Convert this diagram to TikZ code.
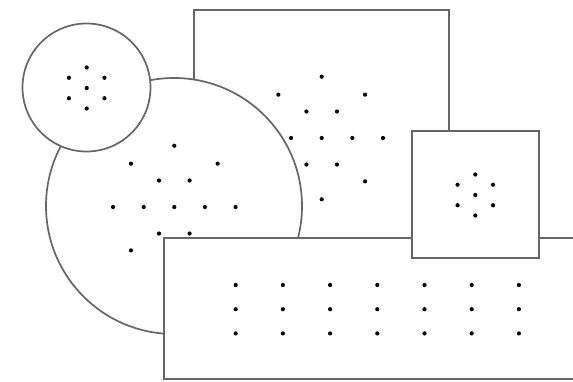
\documentclass[tikz,border=0pt]{standalone}
\usetikzlibrary{calc}
\begin{document}
\begin{tikzpicture}[x=1pt,y=-1pt,
  shapeline/.style={draw=black!60,line width=1.7pt,fill=white,inner sep=0pt,outer sep=0pt},
  boxshape/.style={shapeline,rectangle},
  roundshape/.style={shapeline,circle},
  dot/.style={circle,fill=black,inner sep=0pt,minimum size=4.2pt}]
\useasboundingbox (0,0) rectangle (573,381);
\clip (0,0) rectangle (573,381);
% top rectangle
\node[boxshape,minimum width=255.3pt,minimum height=227.7pt] (toprect) at (321.65,123.85) {};
\coordinate (tc) at (321.7,138);
\node[dot] (t0) at (tc) {};
\foreach \a [count=\i] in {0,60,...,300} \node[dot] (ti\i) at ($(tc)+(\a:30.6)$) {};
\foreach \a [count=\i] in {0,45,...,315} \node[dot] (to\i) at ($(tc)+(\a:61.3)$) {};
% big circle
\node[roundshape,minimum size=256pt] (bigcirc) at (174,206) {};
\coordinate (bc) at (174.3,207);
\node[dot] (b0) at (bc) {};
\foreach \a [count=\i] in {0,60,...,300} \node[dot] (bi\i) at ($(bc)+(\a:30.6)$) {};
\foreach \a [count=\i] in {0,45,...,315} \node[dot] (bo\i) at ($(bc)+(\a:61.3)$) {};
% small circle
\node[roundshape,minimum size=128pt] (smallcirc) at (86.5,87.5) {};
\node[dot] (s0) at (86.7,88) {};
\foreach \a [count=\i] in {30,90,...,330} \node[dot] (s\i) at ($(s0)+(\a:20.5)$) {};
% bottom rectangle
\node[boxshape,minimum width=436pt,minimum height=141pt] (botrect) at (382,308.8) {};
\foreach \c [count=\i] in {0,...,6}
  \foreach \r [count=\j] in {0,1,2}
    \node[dot] (g\i\j) at (235.7+47.2*\c,285+24.2*\r) {};
% small square
\node[boxshape,minimum width=127.3pt,minimum height=126.7pt] (square) at (475.35,194.35) {};
\node[dot] (q0) at (475.3,195) {};
\foreach \a [count=\i] in {30,90,...,330} \node[dot] (q\i) at ($(q0)+(\a:20.5)$) {};
\end{tikzpicture}
\end{document}
